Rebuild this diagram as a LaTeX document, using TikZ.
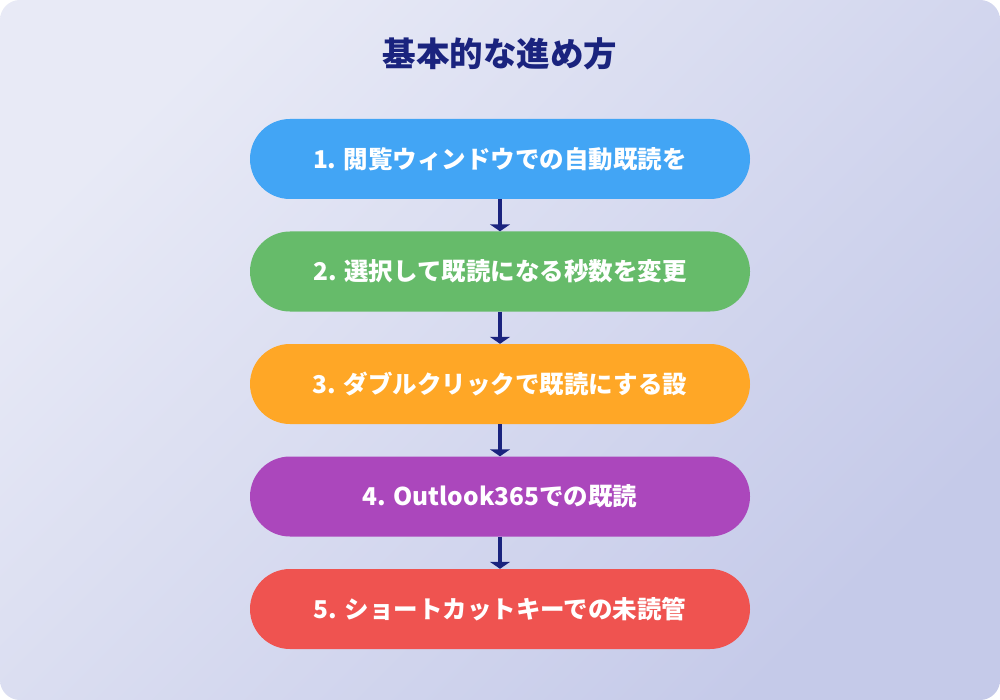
\documentclass[tikz,border=0pt]{standalone}
\usepackage{fontspec}
\setmainfont{Noto Sans CJK JP}
\usetikzlibrary{arrows.meta}
\definecolor{bgtop}{HTML}{E8EAF6}
\definecolor{bgbottom}{HTML}{C5CAE9}
\definecolor{navy}{HTML}{1A237E}
\definecolor{stepblue}{HTML}{42A5F5}
\definecolor{stepgreen}{HTML}{66BB6A}
\definecolor{steporange}{HTML}{FFA726}
\definecolor{steppurple}{HTML}{AB47BC}
\definecolor{stepred}{HTML}{EF5350}
\tikzset{
    stepbox/.style={rectangle, rounded corners=40pt, minimum width=500pt, minimum height=80pt,
        text=white, font=\bfseries\fontsize{24.5}{28}\selectfont, inner sep=0pt},
    flow/.style={draw=navy, line width=3.5pt, -{Triangle[width=20pt,length=7pt]}}
}

\begin{document}
\begin{tikzpicture}[x=1pt,y=-1pt]
    \useasboundingbox (0,0) rectangle (1000,700);
    \fill[white] (0,0) rectangle (1000,700);
    \shade[rounded corners=20pt, top color=bgtop, bottom color=bgbottom, shading angle=45]
        (0,0) rectangle (1000,700);
    \node[text=navy, font=\bfseries\fontsize{33.5}{38}\selectfont] (title) at (500,54) {基本的な進め方};
    \node[stepbox, fill=stepblue] (s1) at (500,159) {1. 閲覧ウィンドウでの自動既読を};
    \node[stepbox, fill=stepgreen] (s2) at (500,271.5) {2. 選択して既読になる秒数を変更};
    \node[stepbox, fill=steporange] (s3) at (500,384) {3. ダブルクリックで既読にする設};
    \node[stepbox, fill=steppurple] (s4) at (500,496.5) {4. Outlook365での既読};
    \node[stepbox, fill=stepred] (s5) at (500,609) {5. ショートカットキーでの未読管};
    \foreach \a/\b in {s1/s2, s2/s3, s3/s4, s4/s5}
        \draw[flow] (\a.south) -- (\b.north);
\end{tikzpicture}
\end{document}
